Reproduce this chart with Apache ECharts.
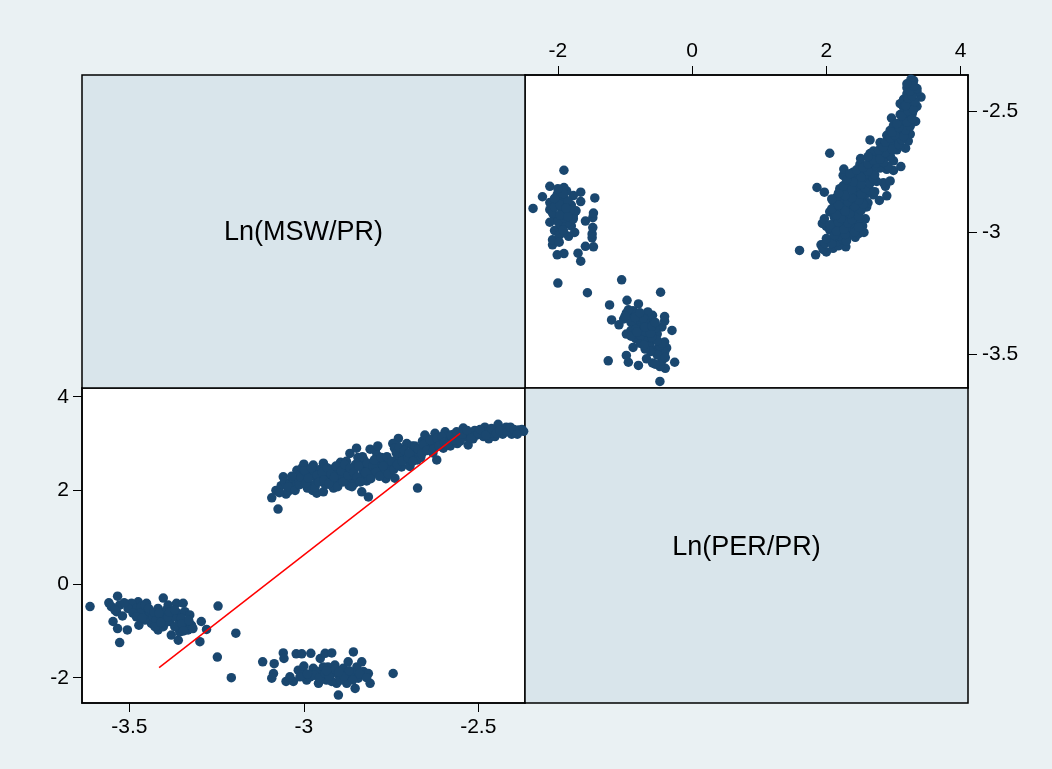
<!DOCTYPE html>
<html><head><meta charset="utf-8">
<script src="https://cdn.jsdelivr.net/npm/echarts@6/dist/echarts.min.js"></script>
<style>html,body{margin:0;padding:0;background:#eaf1f3}#c{width:1052px;height:769px}</style>
</head><body><div id="c"></div>
<script>
// Variables of the scatter matrix
const varNames = ['Ln(MSW/PR)', 'Ln(PER/PR)'];

// Observations as [Ln(MSW/PR), Ln(PER/PR)]
const clusterA = [
[-3.613,-0.48],[-3.534,-0.26],[-3.559,-0.40],[-3.552,-0.48],[-3.537,-0.59],[-3.547,-0.80],[-3.534,-0.95],[-3.528,-1.25],
[-3.506,-0.98],[-3.506,-0.43],[-3.489,-0.55],[-3.475,-0.38],[-3.473,-0.88],[-3.461,-0.63],[-3.451,-0.41],[-3.446,-0.73],
[-3.437,-0.84],[-3.418,-0.52],[-3.403,-0.30],[-3.418,-0.98],[-3.399,-0.63],[-3.389,-0.45],[-3.384,-0.80],[-3.380,-1.09],
[-3.365,-0.41],[-3.360,-0.63],[-3.360,-1.20],[-3.356,-0.80],[-3.346,-0.41],[-3.341,-0.59],[-3.337,-0.91],[-3.327,-0.66],
[-3.322,-0.88],[-3.332,-0.98],[-3.356,-1.02],[-3.318,-0.95],[-3.294,-0.80],[-3.279,-0.97],[-3.298,-1.23],[-3.246,-0.47],
[-3.195,-1.05],[-3.248,-1.56],[-3.208,-2.00],
[-3.494,-0.41],[-3.480,-0.52],[-3.466,-0.48],[-3.456,-0.77],[-3.442,-0.59],[-3.432,-0.70],[-3.423,-0.77],[-3.408,-0.70],
[-3.394,-0.55],[-3.375,-0.70],[-3.370,-0.91],[-3.351,-0.73],[-3.403,-0.91],[-3.427,-0.91],[-3.456,-0.45],[-3.470,-0.63],
[-3.528,-0.45],[-3.504,-0.52],[-3.542,-0.55],[-3.399,-0.84],
[-3.490,-0.62],[-3.480,-0.70],[-3.445,-0.52],[-3.430,-0.60],[-3.415,-0.62],[-3.410,-0.82],[-3.390,-0.70],[-3.385,-0.60],
[-3.370,-0.55],[-3.350,-0.85],[-3.345,-1.00],[-3.330,-0.78],[-3.520,-0.68],[-3.515,-0.40],[-3.463,-0.72]
];
const clusterB = [
[-3.118,-1.66],[-3.085,-1.70],[-3.087,-1.91],[-3.092,-2.01],[-3.059,-1.47],[-3.057,-1.59],[-3.051,-2.08],[-3.022,-1.49],
[-3.006,-1.49],[-2.980,-1.48],[-3.030,-2.08],[-3.016,-1.84],[-3.001,-1.91],[-2.992,-2.05],[-2.973,-1.80],[-2.953,-1.59],
[-2.939,-1.48],[-2.920,-1.47],[-2.950,-1.91],[-2.935,-2.05],[-2.931,-1.77],[-2.916,-1.87],[-2.901,-1.94],[-2.901,-2.37],
[-2.906,-2.12],[-2.887,-1.80],[-2.873,-1.66],[-2.858,-1.45],[-2.877,-2.12],[-2.868,-1.98],[-2.853,-2.23],[-2.848,-1.77],
[-2.834,-1.66],[-2.829,-1.87],[-2.815,-1.91],[-2.810,-2.12],[-2.744,-1.91],
[-2.963,-1.87],[-2.925,-1.94],[-2.911,-1.73],[-2.892,-1.98],[-2.882,-1.91],[-2.944,-1.77],[-2.858,-1.91],[-2.920,-2.08],
[-2.982,-1.98],[-3.011,-1.98],[-2.844,-2.01],[-2.958,-2.12],[-3.040,-1.98],
[-3.000,-1.75],[-2.970,-1.95],[-2.955,-2.00],[-2.940,-1.90],[-2.928,-1.97],[-2.910,-1.82],[-2.895,-2.05],[-2.885,-1.97],
[-2.870,-1.85],[-2.860,-2.05],[-2.840,-1.92],[-2.820,-2.00],[-2.900,-1.88],[-2.935,-1.85],[-2.990,-1.92]
];
const clusterC = [
[-3.092,1.84],[-3.074,1.60],[-3.051,1.92],[-3.059,2.29],[-3.080,2.00],[-3.065,2.10],[-3.055,2.18],[-3.070,1.95],
[-3.020,2.43],[-3.040,2.15],[-3.035,2.05],[-3.030,2.25],[-3.045,1.98],[-3.010,2.35],[-3.025,2.10],[-3.015,2.20],[-3.005,2.48],
[-3.000,2.56],[-2.973,2.54],[-2.990,2.20],[-2.985,2.10],[-2.980,2.30],[-2.975,2.00],[-2.970,2.40],[-2.965,2.15],[-2.960,2.25],
[-2.963,1.94],[-2.955,2.35],[-2.952,2.45],[-2.990,2.05],[-2.982,2.38],
[-2.944,2.58],[-2.944,1.97],[-2.940,2.50],[-2.935,2.40],[-2.930,2.30],[-2.925,2.20],[-2.920,2.10],[-2.915,2.05],[-2.910,2.25],
[-2.905,2.35],[-2.902,2.15],[-2.948,2.28],[-2.938,2.12],[-2.918,2.45],
[-2.868,2.79],[-2.895,2.60],[-2.890,2.50],[-2.885,2.40],[-2.880,2.30],[-2.875,2.20],[-2.870,2.10],[-2.865,2.35],[-2.860,2.25],
[-2.858,2.45],[-2.855,2.15],[-2.852,2.55],[-2.898,2.28],[-2.878,2.62],
[-2.849,2.90],[-2.810,2.88],[-2.845,2.70],[-2.840,2.60],[-2.835,2.50],[-2.830,2.40],[-2.825,2.30],[-2.820,2.20],[-2.834,1.97],
[-2.815,1.86],[-2.812,2.45],[-2.805,2.35],[-2.828,2.65],
[-2.795,2.85],[-2.790,2.75],[-2.785,2.65],[-2.780,2.55],[-2.775,2.45],[-2.770,2.35],[-2.765,2.25],[-2.760,2.60],[-2.755,2.50],
[-2.752,2.40],[-2.788,2.95],
[-2.729,3.11],[-2.745,3.00],[-2.740,2.90],[-2.735,2.80],[-2.730,2.70],[-2.725,2.60],[-2.720,2.50],[-2.739,2.26],[-2.715,2.75],
[-2.705,3.00],[-2.710,2.65],
[-2.696,2.51],[-2.690,2.95],[-2.685,2.85],[-2.680,2.75],[-2.675,2.65],[-2.674,2.05],[-2.670,2.80],[-2.665,2.70],[-2.660,3.05],
[-2.655,2.90],
[-2.653,3.18],[-2.624,3.22],[-2.645,3.10],[-2.640,3.00],[-2.635,2.90],[-2.630,2.80],[-2.619,2.65],[-2.625,2.95],[-2.610,3.05],
[-2.600,2.90],
[-2.595,3.25],[-2.590,3.15],[-2.585,3.05],[-2.580,2.95],[-2.575,3.10],[-2.570,3.20],[-2.560,3.00],[-2.555,3.15],
[-2.543,3.33],[-2.540,3.25],[-2.535,3.15],[-2.529,2.97],[-2.525,3.20],[-2.515,3.10],[-2.510,3.28],[-2.505,3.18],
[-2.481,3.35],[-2.490,3.20],[-2.485,3.15],[-2.475,3.25],[-2.470,3.10],[-2.465,3.28],[-2.452,3.15],[-2.460,3.22],
[-2.443,3.41],[-2.435,3.25],[-2.430,3.20],[-2.425,3.30],[-2.414,3.30],[-2.404,3.20],[-2.420,3.35],
[-2.385,3.29],[-2.395,3.25],[-2.375,3.30],[-2.370,3.26],
[-3.045,2.08],[-3.035,2.30],[-3.025,2.00],[-3.012,2.12],[-3.008,2.28],[-2.998,2.42],[-2.995,2.15],[-2.987,2.26],[-2.978,2.48],
[-2.968,2.06],[-2.962,2.32],[-2.957,2.18],[-2.947,2.38],[-2.942,2.22],[-2.933,2.48],[-2.928,2.15],[-2.922,2.35],[-2.913,2.28],
[-2.908,2.52],[-2.903,2.08],[-2.893,2.42],[-2.888,2.18],[-2.883,2.55],[-2.873,2.32],[-2.867,2.48],[-2.862,2.08],[-2.857,2.38],
[-2.848,2.28],[-2.843,2.52],[-2.838,2.18],[-2.832,2.72],[-2.823,2.38],[-2.818,2.58],[-2.808,2.25],[-2.802,2.52],[-2.798,2.65],
[-2.792,2.40],[-2.783,2.30],[-2.778,2.70],[-2.772,2.52],[-2.762,2.72],[-2.758,2.35],[-2.748,2.62],[-2.742,2.45],[-2.732,2.55],
[-2.727,2.92],[-2.718,2.62],[-2.712,2.85],[-2.702,2.70],[-2.698,2.80],[-2.688,2.62],[-2.682,2.95],[-2.672,2.88],[-2.662,2.78],
[-2.657,2.98],[-2.648,2.85],[-2.638,3.08],[-2.628,2.88],[-2.618,3.12],[-2.612,2.95],[-2.605,3.15],[-2.598,3.02],[-2.588,2.98],
[-2.578,3.18],[-2.568,3.08],[-2.562,3.25],[-2.552,3.05],[-2.545,3.20],[-2.532,3.28],[-2.520,3.12],[-2.500,3.22],[-2.495,3.30],
[-2.478,3.18],[-2.462,3.32],[-2.448,3.22],[-2.438,3.28],[-2.418,3.25],[-2.408,3.35],[-2.398,3.30],[-2.388,3.20]
];

// Fitted line shown in the lower-left panel, as [Ln(MSW/PR), Ln(PER/PR)]
const fitLine = [[-3.415,-1.786],[-2.552,3.218]];

// Tick labels
const mswTicks = [-3.5, -3, -2.5];
const perTicks = [-2, 0, 2, 4];

// Axis extents
const mswExtentX = [-3.636, -2.366];
const mswExtentY = [-3.640, -2.352];
const perExtentX = [-2.49, 4.11];
const perExtentY = [-2.54, 4.186];

const points = clusterA.concat(clusterB, clusterC);

const FONT = '"Liberation Sans", Arial, Helvetica, sans-serif';
const NAVY = '#1a476f';
const PANEL = '#d9e5eb';
const LW = 1.5;

function axis(gridIndex, position, ext, ticks, margin) {
  return {
    type: 'value', gridIndex: gridIndex, position: position,
    min: ext[0], max: ext[1], scale: true,
    axisLine: { show: true, onZero: false, lineStyle: { color: '#000', width: LW } },
    axisTick: { show: true, inside: false, length: 9, customValues: ticks, lineStyle: { color: '#000', width: 1 } },
    axisLabel: { show: true, customValues: ticks, margin: margin, color: '#000', fontSize: 21, fontFamily: FONT },
    splitLine: { show: false }
  };
}

const chart = echarts.init(document.getElementById('c'), null, { renderer: 'canvas' });
chart.setOption({
  backgroundColor: '#eaf1f3',
  animation: false,
  dataset: { source: points, dimensions: ['msw', 'per'] },
  grid: [
    { left: 525, top: 75, width: 443, height: 313, show: true, backgroundColor: '#fff', borderColor: '#000', borderWidth: LW },
    { left: 82, top: 388, width: 443, height: 315, show: true, backgroundColor: '#fff', borderColor: '#000', borderWidth: LW }
  ],
  xAxis: [
    axis(0, 'top', perExtentX, perTicks, 13),
    axis(1, 'bottom', mswExtentX, mswTicks, 14)
  ],
  yAxis: [
    axis(0, 'right', mswExtentY, mswTicks, 14),
    axis(1, 'left', perExtentY, perTicks, 13)
  ],
  graphic: [
    { type: 'rect', shape: { x: 82, y: 75, width: 443, height: 313 }, style: { fill: PANEL, stroke: '#000', lineWidth: LW }, z: 0 },
    { type: 'rect', shape: { x: 525, y: 388, width: 443, height: 315 }, style: { fill: PANEL, stroke: '#000', lineWidth: LW }, z: 0 },
    { type: 'text', x: 303.5, y: 233, style: { text: varNames[0], fill: '#000', font: '27px ' + FONT, textAlign: 'center', textVerticalAlign: 'middle' }, z: 10 },
    { type: 'text', x: 746.5, y: 548, style: { text: varNames[1], fill: '#000', font: '27px ' + FONT, textAlign: 'center', textVerticalAlign: 'middle' }, z: 10 }
  ],
  series: [
    { type: 'scatter', xAxisIndex: 0, yAxisIndex: 0, encode: { x: 'per', y: 'msw' }, symbolSize: 9.5,
      itemStyle: { color: NAVY, opacity: 1, borderWidth: 0 } },
    { type: 'scatter', xAxisIndex: 1, yAxisIndex: 1, encode: { x: 'msw', y: 'per' }, symbolSize: 9.5,
      itemStyle: { color: NAVY, opacity: 1, borderWidth: 0 } },
    { type: 'line', xAxisIndex: 1, yAxisIndex: 1, data: fitLine, symbol: 'none', z: 5,
      lineStyle: { color: '#ff0000', width: 1.5 } }
  ]
});
</script></body></html>
